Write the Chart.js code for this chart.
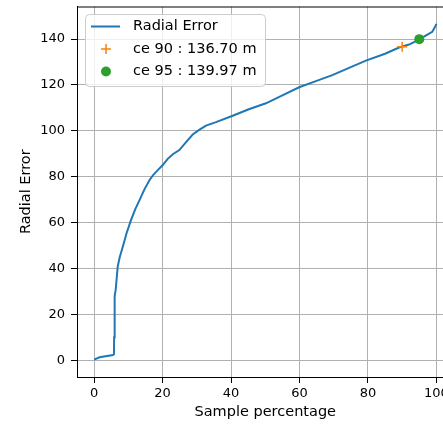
<!DOCTYPE html>
<html>
<head>
<meta charset="utf-8">
<script src="https://cdn.jsdelivr.net/npm/chart.js@4.4.0/dist/chart.umd.min.js"></script>
<style>
html, body { margin: 0; padding: 0; overflow: hidden; background: #fff; }
</style>
</head>
<body>
<canvas id="canvas" width="460" height="425"></canvas>
<script>
// sorted radial error vs. percentage of samples
var samplePct = [0, 1.6, 5.5, 5.8, 5.85, 5.9, 6.1, 6.3, 6.9, 7.5, 8.4, 9.5, 10.8, 12, 13.3, 14.7, 16.2, 17.3, 18.6, 20, 21.5, 23, 24.9, 26.8, 28.8, 30.8, 32.7, 35.6, 40.5, 45, 50.2, 55, 59.9, 65, 69.6, 75, 79.4, 85, 89.1, 92, 95.1, 97, 98.8, 99.5, 100];
var radialError = [0.3, 1.3, 2.3, 2.6, 10, 22, 28, 30.7, 40.9, 45, 49.6, 55.5, 61.2, 65.8, 69.9, 74.5, 78.6, 80.8, 82.9, 85, 87.8, 89.8, 91.6, 95, 98.4, 100.5, 102.3, 103.8, 106.6, 109.3, 112.0, 115.5, 119.0, 121.8, 124.3, 127.8, 130.6, 133.6, 136.3, 137.6, 139.9, 141.6, 143.2, 145.0, 146.6];

var ce90 = [90, 136.70];
var ce95 = [95, 139.97];

var xTicks = [0, 20, 40, 60, 80, 100];
var yTicks = [0, 20, 40, 60, 80, 100, 120, 140];

var fontFamily = "'DejaVu Sans', sans-serif";

var frame = {
	id: 'frame',
	afterDatasetsDraw: function(chart){
		var ctx = chart.ctx, a = chart.chartArea;
		ctx.save();
		ctx.strokeStyle = '#000';
		ctx.lineWidth = 1;
		ctx.beginPath();
		ctx.moveTo(a.left, a.top + 0.5);
		ctx.lineTo(a.right, a.top + 0.5);
		ctx.moveTo(a.right - 0.5, a.top);
		ctx.lineTo(a.right - 0.5, a.bottom);
		ctx.stroke();
		ctx.restore();
	},
	afterDraw: function(chart){
		// legend box, upper left inside the axes
		var ctx = chart.ctx;
		var ds = chart.data.datasets;
		var x0 = 85, y0 = 14, w = 180, h = 72, r = 4;
		ctx.save();
		ctx.beginPath();
		ctx.roundRect(x0 + 0.5, y0 + 0.5, w, h, r);
		ctx.fillStyle = 'rgba(255,255,255,0.8)';
		ctx.fill();
		ctx.strokeStyle = '#cccccc';
		ctx.lineWidth = 1;
		ctx.stroke();

		var rows = [26.5, 49, 71.5];
		// line entry
		ctx.strokeStyle = ds[0].borderColor;
		ctx.lineWidth = 2;
		ctx.beginPath();
		ctx.moveTo(91, rows[0]);
		ctx.lineTo(120, rows[0]);
		ctx.stroke();
		// cross entry
		ctx.strokeStyle = ds[1].borderColor;
		ctx.lineWidth = 1.5;
		ctx.beginPath();
		ctx.moveTo(106, rows[1] - 5);
		ctx.lineTo(106, rows[1] + 5);
		ctx.moveTo(101, rows[1]);
		ctx.lineTo(111, rows[1]);
		ctx.stroke();
		// circle entry
		ctx.fillStyle = ds[2].backgroundColor;
		ctx.beginPath();
		ctx.arc(106, rows[2], 5, 0, Math.PI * 2);
		ctx.fill();

		ctx.fillStyle = '#000';
		ctx.font = '14.5px ' + fontFamily;
		ctx.textBaseline = 'middle';
		ctx.textAlign = 'left';
		for (var i = 0; i < 3; i++) {
			ctx.fillText(ds[i].label, 133, rows[i]);
		}
		ctx.restore();
	}
};

var canvas = document.getElementById('canvas');

new Chart(canvas, {
	type: 'scatter',
	data: {
		datasets: [{
			label: 'Radial Error',
			data: samplePct.map(function(x, i){ return {x: x, y: radialError[i]}; }),
			showLine: true,
			borderColor: '#1f77b4',
			backgroundColor: '#1f77b4',
			borderWidth: 2,
			pointRadius: 0,
			tension: 0,
			order: 2
		}, {
			label: 'ce 90 : ' + ce90[1].toFixed(2) + ' m',
			data: [{x: ce90[0], y: ce90[1]}],
			pointStyle: 'cross',
			pointRadius: 5,
			borderColor: '#ff7f0e',
			backgroundColor: '#ff7f0e',
			borderWidth: 1.5,
			order: 1
		}, {
			label: 'ce 95 : ' + ce95[1].toFixed(2) + ' m',
			data: [{x: ce95[0], y: ce95[1]}],
			pointStyle: 'circle',
			pointRadius: 5,
			borderWidth: 0,
			borderColor: '#2ca02c',
			backgroundColor: '#2ca02c',
			order: 0
		}]
	},
	options: {
		responsive: false,
		animation: false,
		devicePixelRatio: 1,
		layout: { padding: { top: 6, right: 5, left: 0, bottom: 0 } },
		plugins: {
			legend: { display: false },
			tooltip: { enabled: false }
		},
		scales: {
			x: {
				type: 'linear',
				min: -5,
				max: 105,
				afterBuildTicks: function(s){ s.ticks = xTicks.map(function(v){ return {value: v}; }); },
				afterFit: function(s){ s.height = 48; s.paddingLeft = 0; s.paddingRight = 0; },
				grid: { color: '#b0b0b0', lineWidth: 1, tickLength: 6, tickColor: '#000' },
				border: { color: '#000', width: 1 },
				ticks: { color: '#000', autoSkip: false, maxRotation: 0, padding: 3, font: { family: fontFamily, size: 13 } },
				title: { display: true, text: 'Sample percentage', color: '#000', font: { family: fontFamily, size: 14.5 }, padding: { top: 0, bottom: 4 } }
			},
			y: {
				type: 'linear',
				min: -7.3,
				max: 154.2,
				afterBuildTicks: function(s){ s.ticks = yTicks.map(function(v){ return {value: v}; }); },
				afterFit: function(s){ s.width = 77; s.paddingTop = 0; s.paddingBottom = 0; },
				grid: { color: '#b0b0b0', lineWidth: 1, tickLength: 6, tickColor: '#000' },
				border: { color: '#000', width: 1 },
				ticks: { color: '#000', autoSkip: false, padding: 6, font: { family: fontFamily, size: 13 } },
				title: { display: true, text: 'Radial Error', color: '#000', font: { family: fontFamily, size: 14.5 }, padding: { top: 18, bottom: 0 } }
			}
		}
	},
	plugins: [frame]
});
</script>
</body>
</html>
